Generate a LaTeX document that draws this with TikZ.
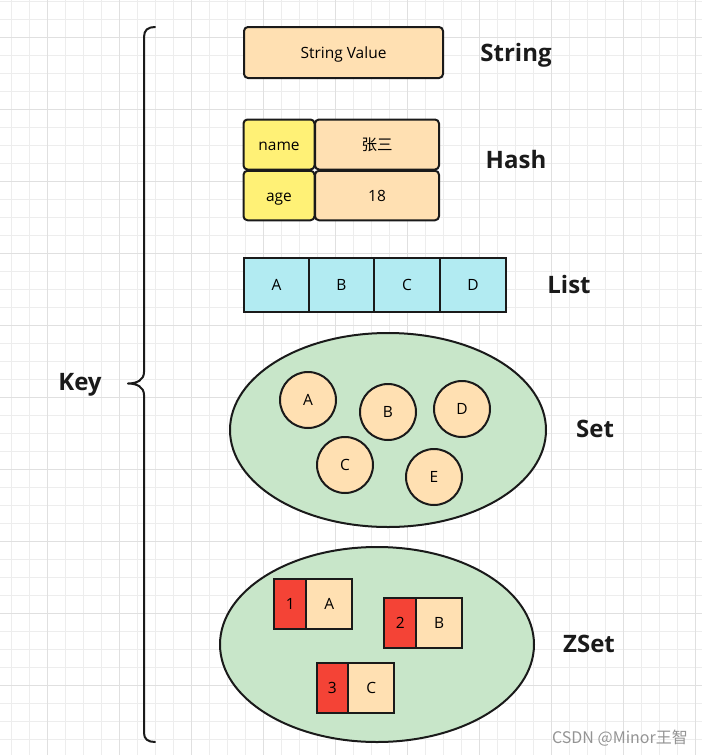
\documentclass[tikz,border=0pt]{standalone}
\usetikzlibrary{shapes.geometric}
\usepackage{fontspec}
\setmainfont{Open Sans}
\newfontfamily\cjk{Noto Sans CJK SC}
\definecolor{ink}{HTML}{1A1A1A}
\definecolor{peach}{HTML}{FFE0B2}
\definecolor{ylw}{HTML}{FFF176}
\definecolor{cyanl}{HTML}{B2EBF2}
\definecolor{greenl}{HTML}{C8E6C9}
\definecolor{redz}{HTML}{F44336}
\definecolor{gridminor}{HTML}{EDEDED}
\definecolor{gridmajor}{HTML}{E0E0E0}
\begin{document}
\begin{tikzpicture}[x=1pt,y=-1pt,
  box/.style={draw=ink, line width=2pt, inner sep=0pt, font=\fontsize{15.5}{18}\selectfont, text height=12pt, text depth=1pt},
  rbox/.style={box, rounded corners=4pt},
  strbox/.style={rbox, fill=peach},
  keybox/.style={rbox, fill=ylw, minimum width=71pt},
  valbox/.style={rbox, fill=peach, minimum width=124pt},
  listbox/.style={box, fill=cyanl, minimum height=54pt},
  setball/.style={box, circle, fill=peach, minimum size=56pt},
  zscore/.style={box, fill=redz, minimum height=50pt, minimum width=31.5pt},
  zval/.style={box, fill=peach, minimum height=50pt, minimum width=46.3pt},
  blob/.style={draw=ink, line width=2pt, ellipse, fill=greenl, inner sep=0pt},
  lbl/.style={font=\fontsize{24}{28}\selectfont\bfseries, text=ink, text height=17pt, text depth=0pt, inner sep=0pt},
  brace/.style={draw=ink, line width=2pt, line cap=round, line join=round}
]
\useasboundingbox (0,0) rectangle (702,755);
\fill[white] (0,0) rectangle (702,755);
% grid
\foreach \i in {0,...,38} {\draw[gridminor, line width=1pt] ({11.7+18*\i},0) -- ({11.7+18*\i},755);}
\foreach \j in {0,...,41} {\draw[gridminor, line width=1pt] (0,{1.3+18*\j}) -- (702,{1.3+18*\j});}
\foreach \i in {0,...,9} {\draw[gridmajor, line width=1pt] ({47.7+72*\i},0) -- ({47.7+72*\i},755);}
\foreach \j in {0,...,9} {\draw[gridmajor, line width=1pt] (0,{37.3+72*\j}) -- (702,{37.3+72*\j});}

% brace
\coordinate (btop) at (155,27);
\coordinate (btip) at (128,383.5);
\coordinate (bbot) at (155,742);
\draw[brace] (btop) .. controls (148,27) and (144,30) .. (144,37) -- (144,372)
  .. controls (144,380) and (137,383.5) .. (btip)
  .. controls (137,383.5) and (144,387) .. (144,395) -- (144,733)
  .. controls (144,739) and (148,742) .. (bbot);
\node[lbl] (key) at (80,382) {Key};

% String
\node[strbox, minimum width=199pt, minimum height=51pt] (str) at (343.5,52.5) {String Value};
\node[lbl] (lstr) at (516,53) {String};

% Hash
\node[keybox, minimum height=50pt] (hname) at (279,144.5) {name};
\node[valbox, minimum height=50pt] (hzs) at (377,144.5) {\cjk 张三};
\node[keybox, minimum height=49.5pt] (hage) at (279,195.5) {age};
\node[valbox, minimum height=49.5pt] (h18) at (377,195.5) {18};
\node[lbl] (lhash) at (516,160) {Hash};

% List
\node[listbox, minimum width=65pt] (la) at (276.5,285) {A};
\node[listbox, minimum width=65pt] (lb) at (341.5,285) {B};
\node[listbox, minimum width=66pt] (lc) at (407,285) {C};
\node[listbox, minimum width=66pt] (ld) at (473,285) {D};
\node[lbl] (llist) at (569,285) {List};

% Set
\node[blob, minimum width=316pt, minimum height=194pt] (setE) at (388,430) {};
\node[setball] (sa) at (308,400) {A};
\node[setball] (sb) at (388,412) {B};
\node[setball] (sd) at (462,409) {D};
\node[setball] (sc) at (345,465) {C};
\node[setball] (se) at (434,477) {E};
\node[lbl] (lset) at (595,429) {Set};

% ZSet
\node[blob, minimum width=314pt, minimum height=195pt] (zsetE) at (377,644.5) {};
\node[zscore] (z1) at (290.2,603.5) {1};
\node[zval] (za) at (329.2,603.5) {A};
\node[zscore] (z2) at (400.2,622.7) {2};
\node[zval] (zb) at (439.2,622.7) {B};
\node[zscore] (z3) at (332.4,687.7) {3};
\node[zval] (zc) at (371.2,687.7) {C};
\node[lbl] (lzset) at (589,644) {ZSet};

% watermark
\node[font=\cjk\fontsize{16}{18}\selectfont, text=black!42] (wm) at (620,738) {CSDN @Minor王智};
\end{tikzpicture}
\end{document}
